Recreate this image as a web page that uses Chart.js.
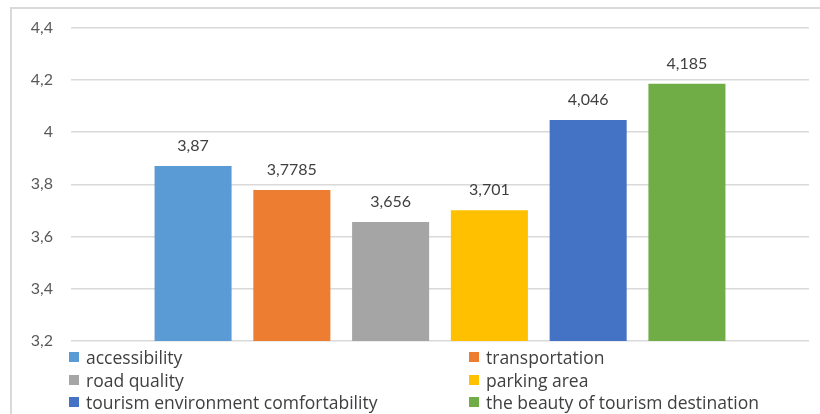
<!DOCTYPE html>
<html>
<head>
<meta charset="utf-8">
<script src="https://cdn.jsdelivr.net/npm/chart.js@4"></script>
<style>
  html, body { margin: 0; padding: 0; background: #fff; }
  body { width: 820px; height: 414px; position: relative; overflow: hidden; font-family: "Open Sans", Lato, sans-serif; }
  #frame {
    position: absolute; left: 10px; top: 7px; width: 830px; height: 430px;
    border-left: 2px solid #d9d9d9; border-top: 2px solid #d9d9d9;
  }
  #wrap { position: absolute; left: 0; top: 0; width: 820px; height: 414px; }
  #legend {
    position: absolute; left: 69px; top: 346px; width: 720px;
    display: grid; grid-template-columns: 400px 320px; row-gap: 0;
    font-size: 17.5px; color: #404040;
  }
  .item { height: 22.5px; display: flex; align-items: center; white-space: nowrap; }
  .box { width: 10px; height: 10px; margin-right: 7px; flex: none; }
</style>
</head>
<body>
<div id="frame"></div>
<div id="wrap"><canvas id="chart" width="820" height="414"></canvas></div>
<div id="legend"></div>

<script>
// factors and their mean scores
const factors = [
  "accessibility",
  "transportation",
  "road quality",
  "parking area",
  "tourism environment comfortability",
  "the beauty of tourism destination"
];
const scores = [3.87, 3.7785, 3.656, 3.701, 4.046, 4.185];
const colors = ["#5B9BD5", "#ED7D31", "#A5A5A5", "#FFC000", "#4472C4", "#70AD47"];
const yTicks = [3.2, 3.4, 3.6, 3.8, 4, 4.2, 4.4];

const fmt = v => String(v).replace(".", ",");

// value labels above each bar
const valueLabels = {
  id: "valueLabels",
  afterDatasetsDraw(chart) {
    const ctx = chart.ctx;
    ctx.save();
    ctx.font = "16px Lato, 'Open Sans', sans-serif";
    ctx.fillStyle = "#404040";
    ctx.textAlign = "center";
    ctx.textBaseline = "alphabetic";
    chart.data.datasets.forEach((ds, i) => {
      const bar = chart.getDatasetMeta(i).data[0];
      ctx.fillText(fmt(ds.data[0]), bar.x, bar.y - 15);
    });
    ctx.restore();
  }
};

const datasets = factors.map((name, i) => ({
  label: name,
  data: [scores[i]],
  backgroundColor: colors[i],
  categoryPercentage: 0.803,
  barPercentage: 0.78
}));

new Chart(document.getElementById("chart"), {
  type: "bar",
  data: { labels: [""], datasets },
  options: {
    responsive: false,
    animation: false,
    layout: { padding: { left: 0, right: 11, top: 21, bottom: 65 } },
    plugins: {
      legend: { display: false },
      tooltip: { enabled: false }
    },
    scales: {
      x: {
        ticks: { display: false },
        grid: { display: false },
        border: { display: false }
      },
      y: {
        min: 3.2,
        max: 4.4,
        afterBuildTicks: s => { s.ticks = yTicks.map(v => ({ value: v })); },
        afterFit: s => { s.width = 71; },
        ticks: {
          font: { family: "Lato, 'Open Sans', sans-serif", size: 16 },
          color: "#595959",
          padding: 18,
          callback: v => fmt(v)
        },
        grid: { color: "#d9d9d9", lineWidth: 1.5, drawTicks: false },
        border: { display: false }
      }
    }
  },
  plugins: [valueLabels]
});

// two-column legend under the plot
const legend = document.getElementById("legend");
factors.forEach((name, i) => {
  const item = document.createElement("div");
  item.className = "item";
  item.innerHTML = `<span class="box" style="background:${colors[i]}"></span><span>${name}</span>`;
  legend.appendChild(item);
});
</script>
</body>
</html>
